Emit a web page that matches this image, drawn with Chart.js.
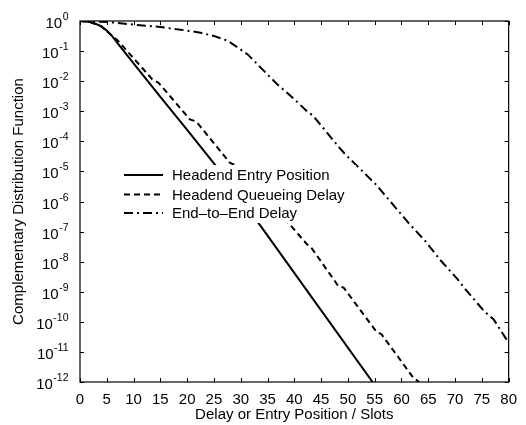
<!DOCTYPE html>
<html>
<head>
<meta charset="utf-8">
<script src="https://cdn.jsdelivr.net/npm/chart.js@4"></script>
<style>
  html, body { margin: 0; padding: 0; background: #fff; }
  #wrap { width: 526px; height: 425px; position: relative; }
</style>
</head>
<body>
<div id="wrap"><canvas id="c" width="526" height="425"></canvas></div>
<script>
// ---- Data ----
const seriesLabels = ["Headend Entry Position", "Headend Queueing Delay", "End\u2013to\u2013End Delay"];

const entryX = [0, 1, 2, 3, 4, 5, 6, 7.4, 10, 15, 20, 25.4, 33.7, 44, 54.6];
const entryY = [1, 0.977, 0.912, 0.794, 0.661, 0.479, 0.316, 0.148, 0.0389, 3.02e-3, 2.40e-4, 1.51e-5, 1.55e-7, 4.27e-10, 1e-12];

const queueX = [0, 2, 4, 6, 7, 13.5, 14.7, 20.5, 21.7, 28, 29.4, 35.5, 36.5, 42.3, 43.2, 48.2, 49.2, 55.2, 56.3, 62.2, 63.3];
const queueY = [1, 0.912, 0.661, 0.316, 0.229, 1.15e-2, 8.71e-3, 5.37e-4, 4.57e-4, 1.91e-5, 1.51e-5, 7.94e-7, 6.03e-7, 3.89e-8, 2.88e-8, 1.55e-9, 1.38e-9, 5.01e-11, 3.80e-11, 1.38e-12, 1e-12];

const e2eX = [0, 5, 10, 15, 20, 22.5, 25, 27.6, 31.3, 34, 36.8, 40, 42.3, 43.5, 48.4, 49.6, 52.7, 55.2, 57.3, 61.3, 64.4, 67.4, 70.5, 71.7, 75.4, 77.2, 80];
const e2eY = [1, 0.933, 0.759, 0.631, 0.479, 0.407, 0.316, 0.219, 7.76e-2, 2.51e-2, 7.94e-3, 2.51e-3, 1.02e-3, 7.08e-4, 6.17e-5, 3.55e-5, 1.02e-5, 3.72e-6, 1.35e-6, 1.95e-7, 4.90e-8, 1.05e-8, 2.57e-9, 1.35e-9, 2.29e-10, 1.20e-10, 2.0e-11];

const xTicks = [0, 5, 10, 15, 20, 25, 30, 35, 40, 45, 50, 55, 60, 65, 70, 75, 80];
const yTicks = [1, 1e-1, 1e-2, 1e-3, 1e-4, 1e-5, 1e-6, 1e-7, 1e-8, 1e-9, 1e-10, 1e-11, 1e-12];
const yTickBase = "10";
const yTickExponents = ["0", "-1", "-2", "-3", "-4", "-5", "-6", "-7", "-8", "-9", "-10", "-11", "-12"];
const xTitle = "Delay or Entry Position / Slots";
const yTitle = "Complementary Distribution Function";

// ---- Styles ----
const FONT = "'Liberation Sans', Arial, Helvetica, sans-serif";
const styles = [
  { dash: [], width: 2 },
  { dash: [6, 4], width: 2 },
  { dash: [9, 4, 2, 4], width: 2 }
];

const toPts = (xs, ys) => xs.map((x, i) => ({ x: x, y: ys[i] }));

const datasets = [
  { label: seriesLabels[0], data: toPts(entryX, entryY), order: 0 },
  { label: seriesLabels[1], data: toPts(queueX, queueY), order: 1 },
  { label: seriesLabels[2], data: toPts(e2eX, e2eY), order: 2 }
].map((d, i) => Object.assign(d, {
  borderColor: '#000',
  backgroundColor: '#000',
  borderWidth: styles[i].width,
  borderDash: styles[i].dash,
  pointRadius: 0,
  tension: 0,
  fill: false
}));

const framePlugin = {
  id: 'frame',
  afterDatasetsDraw(chart) {
    const ctx = chart.ctx;
    // in-plot legend with white box
    const lx0 = 124, lx1 = 163, tx = 172;
    const rows = [175, 194.5, 213];
    ctx.save();
    ctx.fillStyle = '#fff';
    ctx.fillRect(118, 165, 238, 58);
    ctx.font = '15px ' + FONT;
    ctx.textBaseline = 'middle';
    ctx.textAlign = 'left';
    ctx.fillStyle = '#000';
    chart.data.datasets.forEach((ds, i) => {
      ctx.beginPath();
      ctx.setLineDash(styles[i].dash);
      ctx.lineWidth = styles[i].width;
      ctx.strokeStyle = '#000';
      ctx.moveTo(lx0, rows[i]);
      ctx.lineTo(lx1, rows[i]);
      ctx.stroke();
      ctx.fillText(ds.label, tx, rows[i] + 1);
    });
    ctx.restore();
  },
  afterDraw(chart) {
    const ctx = chart.ctx;
    const a = chart.chartArea;
    const xs = chart.scales.x, ys = chart.scales.y;
    ctx.save();
    ctx.setLineDash([]);
    ctx.strokeStyle = '#000';
    ctx.lineWidth = 1.2;
    ctx.strokeRect(a.left, a.top, a.right - a.left, a.bottom - a.top);
    ctx.lineWidth = 1;
    ctx.beginPath();
    xTicks.forEach(v => {
      const p = Math.round(xs.getPixelForValue(v)) + 0.5;
      ctx.moveTo(p, a.bottom); ctx.lineTo(p, a.bottom - 4);
      ctx.moveTo(p, a.top); ctx.lineTo(p, a.top + 4);
    });
    yTicks.forEach(v => {
      const p = Math.round(ys.getPixelForValue(v)) + 0.5;
      ctx.moveTo(a.left, p); ctx.lineTo(a.left + 4, p);
      ctx.moveTo(a.right, p); ctx.lineTo(a.right - 4, p);
    });
    ctx.stroke();
    // y tick labels: 10 with superscript exponent
    ctx.fillStyle = '#000';
    ctx.textBaseline = 'alphabetic';
    ctx.textAlign = 'left';
    const rightEdge = a.left - 12;
    yTicks.forEach((v, i) => {
      const p = ys.getPixelForValue(v);
      ctx.font = '10.5px ' + FONT;
      const ew = ctx.measureText(yTickExponents[i]).width;
      ctx.font = '15px ' + FONT;
      const bw = ctx.measureText(yTickBase).width;
      const x0 = rightEdge - ew - bw;
      ctx.fillText(yTickBase, x0, p + 7);
      ctx.font = '10.5px ' + FONT;
      ctx.fillText(yTickExponents[i], x0 + bw + 0.5, p - 1);
    });
    ctx.restore();
  }
};

new Chart(document.getElementById('c'), {
  type: 'line',
  data: { datasets: datasets },
  options: {
    responsive: false,
    animation: false,
    devicePixelRatio: 1,
    layout: { padding: { top: 21, right: 10, left: 0, bottom: 0 } },
    plugins: { legend: { display: false }, tooltip: { enabled: false } },
    scales: {
      x: {
        type: 'linear',
        min: 0, max: 80,
        afterFit(s) { s.height = 43; },
        afterBuildTicks(s) { s.ticks = xTicks.map(v => ({ value: v })); },
        grid: { display: false, drawTicks: false },
        border: { display: false },
        ticks: { color: '#000', font: { family: FONT, size: 15 }, padding: 9, maxRotation: 0, autoSkip: false,
                 callback: (v) => String(v) },
        title: { display: true, text: xTitle, color: '#000', font: { family: FONT, size: 15 }, padding: 1 }
      },
      y: {
        type: 'logarithmic',
        min: 1e-12, max: 1,
        afterFit(s) { s.width = 80; },
        afterBuildTicks(s) { s.ticks = yTicks.map(v => ({ value: v })); },
        grid: { display: false, drawTicks: false },
        border: { display: false },
        ticks: { display: false },
        title: { display: true, text: yTitle, color: '#000', font: { family: FONT, size: 15 }, padding: 10 }
      }
    }
  },
  plugins: [framePlugin]
});
</script>
</body>
</html>
